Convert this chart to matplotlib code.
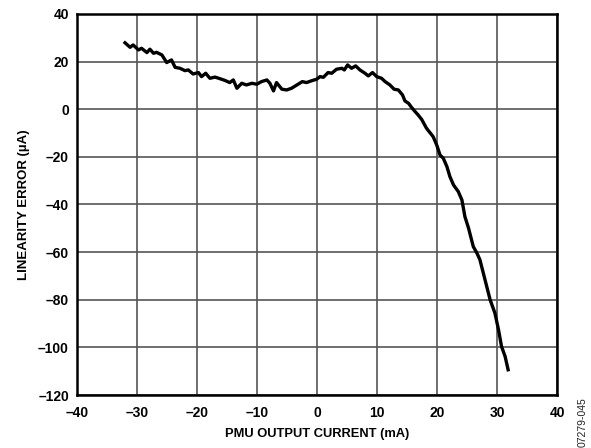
import matplotlib
matplotlib.use("Agg")
import matplotlib.pyplot as plt

current_ma = [-32.05, -31.2, -30.7, -29.8, -29.3, -28.4, -27.9, -27.3, -26.8, -25.9,
              -25.1, -24.3, -23.7, -22.9, -22.05, -21.5, -20.7, -19.8, -19.3, -18.6,
              -17.9, -17.05, -16.2, -15.4, -14.6, -14.0, -13.4, -12.6, -11.8, -10.9,
              -10.1, -9.3, -8.4, -7.9, -7.3, -6.8, -5.9, -5.1, -4.3, -3.4,
              -2.5, -1.8, -0.9, -0.1, 0.45, 1.0, 1.8, 2.4, 3.2, 4.1,
              4.5, 5.05, 5.7, 6.4, 7.1, 7.95, 8.5, 9.2, 9.9, 10.7,
              11.3, 12.1, 12.8, 13.5, 14.2, 14.6, 15.2, 15.7, 16.3, 16.8,
              17.4, 18.2, 19.3, 19.9, 20.45, 21.0, 21.6, 22.1, 22.7, 23.5,
              24.1, 24.6, 25.2, 25.7, 26.0, 26.6, 27.1, 27.95, 28.8, 29.6,
              30.2, 30.7, 31.3, 31.8]
error_ua = [27.9, 26.0, 27.0, 24.9, 25.6, 23.8, 25.2, 23.5, 23.9, 22.8,
            19.6, 20.7, 17.6, 17.2, 16.2, 16.5, 14.8, 15.4, 13.7, 15.1,
            13.0, 13.5, 12.8, 12.1, 11.2, 12.3, 8.8, 10.9, 10.2, 10.9,
            10.5, 11.6, 12.3, 10.9, 7.7, 11.2, 8.4, 8.1, 8.8, 10.2,
            11.6, 11.2, 12.0, 12.6, 13.7, 13.4, 15.4, 15.1, 16.8, 17.2,
            16.5, 18.6, 17.2, 18.2, 16.5, 15.1, 14.0, 15.4, 13.7, 13.0,
            11.6, 10.2, 8.4, 8.1, 6.0, 3.5, 2.5, 0.8, -1.0, -2.4,
            -4.3, -8.0, -11.5, -15.0, -19.2, -20.6, -24.1, -28.3, -31.8, -34.6,
            -38.1, -45.1, -49.9, -54.8, -57.7, -60.4, -63.2, -71.6, -80.0, -85.6,
            -92.6, -99.6, -103.8, -109.4]

x_ticks = [-40, -30, -20, -10, 0, 10, 20, 30, 40]
y_ticks = [-120, -100, -80, -60, -40, -20, 0, 20, 40]

plt.rcParams['font.family'] = ['Liberation Sans', 'DejaVu Sans']

fig = plt.figure(figsize=(5.91, 4.48), dpi=100)
ax = fig.add_axes([0.1308, 0.1183, 0.8122, 0.8505])

ax.plot(current_ma, error_ua, color='black', linewidth=2.4, solid_joinstyle='round')

ax.set_xlim(-40, 40)
ax.set_ylim(-120, 40)
ax.set_xticks(x_ticks)
ax.set_yticks(y_ticks)
ax.set_xticklabels([str(v).replace('-', '\u2013') for v in x_ticks], fontweight='bold', fontsize=10)
ax.set_yticklabels([str(v).replace('-', '\u2013') for v in y_ticks], fontweight='bold', fontsize=10)
ax.tick_params(axis='x', length=0, pad=8)
ax.tick_params(axis='y', length=0, pad=6)
ax.grid(True, color='#555555', linewidth=1.2)
ax.set_axisbelow(True)
for s in ax.spines.values():
    s.set_linewidth(1.8)
    s.set_color('black')

ax.set_xlabel('PMU OUTPUT CURRENT (mA)', fontweight='bold', fontsize=9.3, labelpad=6)
ax.set_ylabel('LINEARITY ERROR (µA)', fontweight='bold', fontsize=9.5, labelpad=6)

fig.text(0.986, 0.114, '07279-045', rotation=90, fontsize=7.5, color='#222222',
         ha='center', va='top')

fig.savefig('out.png', dpi=100)
